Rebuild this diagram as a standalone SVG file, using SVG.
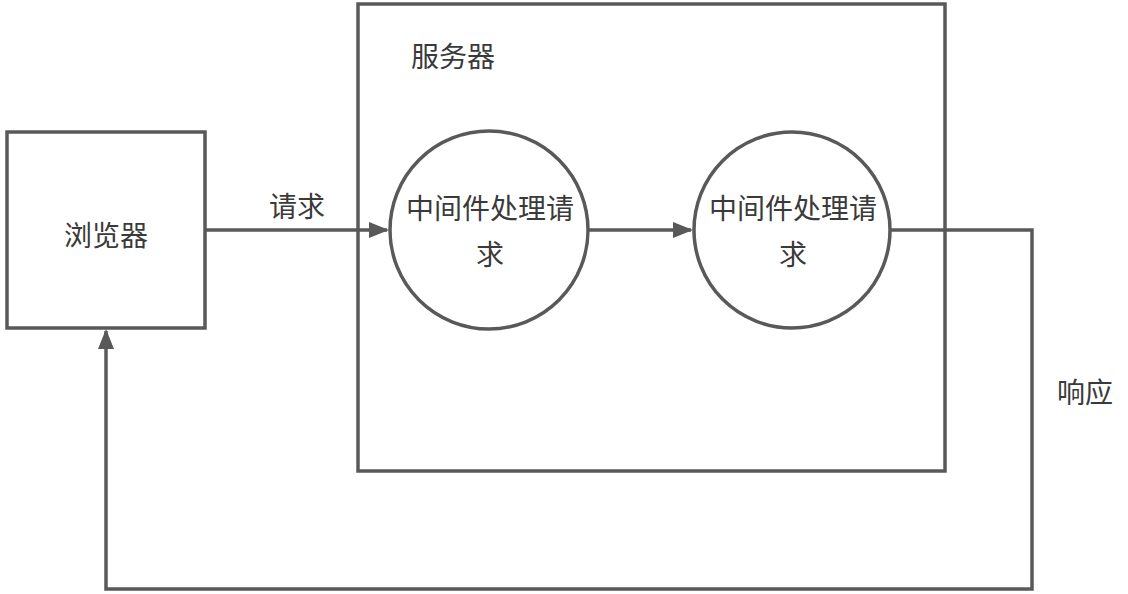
<svg xmlns="http://www.w3.org/2000/svg" width="1128" height="594" viewBox="0 0 1128 594">
<style>
.s{fill:#fff;stroke:#595959;stroke-width:3.5}
.c{fill:none;stroke:#595959;stroke-width:3.5}
.t{font-family:"Noto Sans CJK SC","Noto Sans",sans-serif;font-size:28px;font-weight:400;fill:#3a3a3a;text-anchor:middle;dominant-baseline:central}
</style>
<defs>
<marker id="a" markerWidth="20" markerHeight="18" refX="18" refY="9" orient="auto" markerUnits="userSpaceOnUse">
<path d="M0,1 L20,9 L0,17 Z" fill="#595959"/>
</marker>
</defs>
<rect width="1128" height="594" fill="#fff"/>
<g id="server">
<rect class="s" x="358" y="4" width="587" height="467"/>
<text class="t" x="453" y="55">服务器</text>
</g>
<g id="browser">
<rect class="s" x="7" y="132" width="198" height="196"/>
<text class="t" x="106" y="234">浏览器</text>
</g>
<g id="mw1">
<circle class="s" cx="489" cy="230" r="99"/>
<text class="t" x="490" y="207">中间件处理请</text>
<text class="t" x="490" y="253">求</text>
</g>
<g id="mw2">
<circle class="s" cx="792" cy="230" r="98"/>
<text class="t" x="793" y="207">中间件处理请</text>
<text class="t" x="793" y="253">求</text>
</g>
<g id="connectors">
<line class="c" x1="205" y1="230" x2="387" y2="230" marker-end="url(#a)"/>
<line class="c" x1="588" y1="230" x2="691" y2="230" marker-end="url(#a)"/>
<polyline class="c" points="890,230 1032,230 1032,589 106,589 106,331" marker-end="url(#a)"/>
<text class="t" x="297" y="205">请求</text>
<text class="t" x="1085" y="391">响应</text>
</g>
</svg>
